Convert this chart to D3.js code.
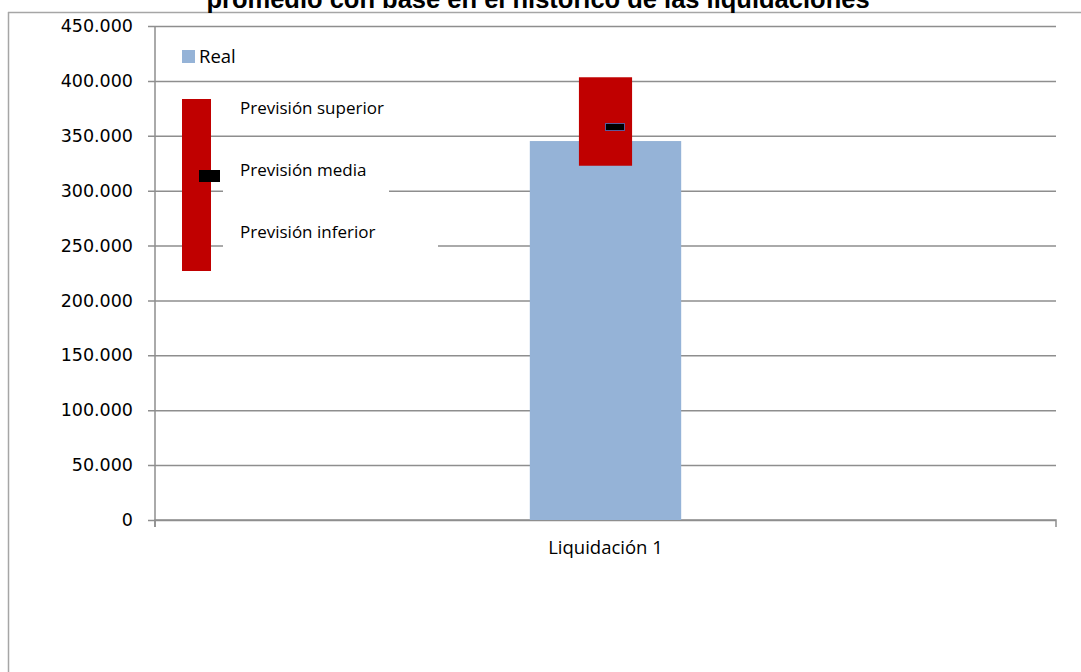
<!DOCTYPE html>
<html>
<head>
<meta charset="utf-8">
<script src="https://d3js.org/d3.v7.min.js"></script>
<style>
  body { margin: 0; background: #fff; }
  svg { display: block; }
  .lbl { font-family: "Open Sans", sans-serif; fill: #000; }
</style>
</head>
<body>
<svg id="chart" width="1081" height="672"></svg>
<script>
// data
var categories = ["Liquidación 1"];
var real = [345200];
var previsionSuperior = [403300];
var previsionMedia = [358000];
var previsionInferior = [322700];
var yTicks = [0, 50000, 100000, 150000, 200000, 250000, 300000, 350000, 400000, 450000];
var titleText = "promedio con base en el histórico de las liquidaciones";

var svg = d3.select("#chart");
var width = +svg.attr("width");
var gridColor = "#8e8e8e";

var plot = {left: 155, right: 1056, top: 26, bottom: 520};

var y = d3.scaleLinear().domain([0, 450000]).range([plot.bottom, plot.top]);
var x = d3.scaleBand().domain(categories).range([plot.left, plot.right]);

var fmt = function(d){ return d === 0 ? "0" : d3.format(",")(d).replace(/,/g, "."); };

// outer frame (only left and top show in the crop)
svg.append("line").attr("x1", 8.5).attr("x2", 8.5).attr("y1", 12).attr("y2", 672)
  .attr("stroke", "#a6a6a6").attr("stroke-width", 1.5);
svg.append("line").attr("x1", 8).attr("x2", width).attr("y1", 12.5).attr("y2", 12.5)
  .attr("stroke", "#a6a6a6").attr("stroke-width", 1.5);

// title (clipped at top, as in the original)
svg.append("text")
  .attr("x", 538).attr("y", 7.5)
  .attr("text-anchor", "middle")
  .attr("font-family", "Liberation Sans, Arial, sans-serif")
  .attr("font-weight", "bold")
  .attr("font-size", 25.5)
  .text(titleText);

// gridlines + y axis
var yAxis = d3.axisLeft(y).tickValues(yTicks).tickFormat(fmt)
  .tickSize(-(plot.right - plot.left)).tickSizeOuter(0).tickPadding(22);
var gy = svg.append("g").attr("transform", "translate(" + plot.left + ",0)").call(yAxis);
gy.select(".domain").remove();
gy.selectAll(".tick line").attr("stroke", gridColor).attr("stroke-width", 1.5).attr("x1", -7);
gy.selectAll(".tick text")
  .attr("font-family", "DejaVu Sans, sans-serif").attr("font-size", 17.5).attr("fill", "#000");

svg.append("line").attr("x1", plot.left).attr("x2", plot.left)
  .attr("y1", plot.top).attr("y2", plot.bottom + 7)
  .attr("stroke", gridColor).attr("stroke-width", 1.5);

// x axis
var xAxis = d3.axisBottom(x).tickSize(0).tickPadding(21);
var gx = svg.append("g").attr("transform", "translate(0," + plot.bottom + ")").call(xAxis);
gx.select(".domain").attr("stroke", gridColor).attr("stroke-width", 1.5)
  .attr("d", "M" + plot.left + ",7V0H" + plot.right + "V7");
gx.selectAll(".tick text").attr("class", "lbl").attr("font-size", 18.5).attr("fill", "#000");

// real bars
var barW = x.bandwidth() * 0.168;
svg.append("g").selectAll("rect").data(categories).enter().append("rect")
  .attr("x", function(d){ return x(d) + x.bandwidth() / 2 - barW / 2; })
  .attr("y", function(d, i){ return y(real[i]); })
  .attr("width", barW)
  .attr("height", function(d, i){ return y(0) - y(real[i]); })
  .attr("fill", "#95b3d7");

// forecast range bars
var rangeW = x.bandwidth() * 0.059;
svg.append("g").selectAll("rect").data(categories).enter().append("rect")
  .attr("x", function(d){ return x(d) + x.bandwidth() / 2 - rangeW / 2; })
  .attr("y", function(d, i){ return y(previsionSuperior[i]); })
  .attr("width", rangeW)
  .attr("height", function(d, i){ return y(previsionInferior[i]) - y(previsionSuperior[i]); })
  .attr("fill", "#c00000");

// mean marker
svg.append("g").selectAll("rect").data(categories).enter().append("rect")
  .attr("x", function(d){ return x(d) + x.bandwidth() / 2; })
  .attr("y", function(d, i){ return y(previsionMedia[i]) - 3.5; })
  .attr("width", 19).attr("height", 7)
  .attr("fill", "#000").attr("stroke", "#5a5a9a").attr("stroke-width", 1);

// legend
var lg = svg.append("g");
lg.append("rect").attr("x", 182).attr("y", 50).attr("width", 13).attr("height", 13).attr("fill", "#95b3d7");
lg.append("text").attr("class", "lbl").attr("x", 199).attr("y", 63).attr("font-size", 18.5).text("Real");

lg.append("rect").attr("x", 182).attr("y", 99).attr("width", 29).attr("height", 172).attr("fill", "#c00000");
lg.append("rect").attr("x", 199).attr("y", 170).attr("width", 21).attr("height", 12).attr("fill", "#000");

var legendItems = [
  {text: "Previsión superior", y: 114, boxY: 92, boxH: 36, boxW: 180},
  {text: "Previsión media", y: 176, boxY: 155, boxH: 40, boxW: 166},
  {text: "Previsión inferior", y: 238, boxY: 205, boxH: 45, boxW: 215}
];
legendItems.forEach(function(it){
  lg.append("rect").attr("x", 223).attr("y", it.boxY).attr("width", it.boxW).attr("height", it.boxH).attr("fill", "#fff");
  lg.append("text").attr("class", "lbl").attr("x", 240).attr("y", it.y).attr("font-size", 17).text(it.text);
});
</script>
</body>
</html>
